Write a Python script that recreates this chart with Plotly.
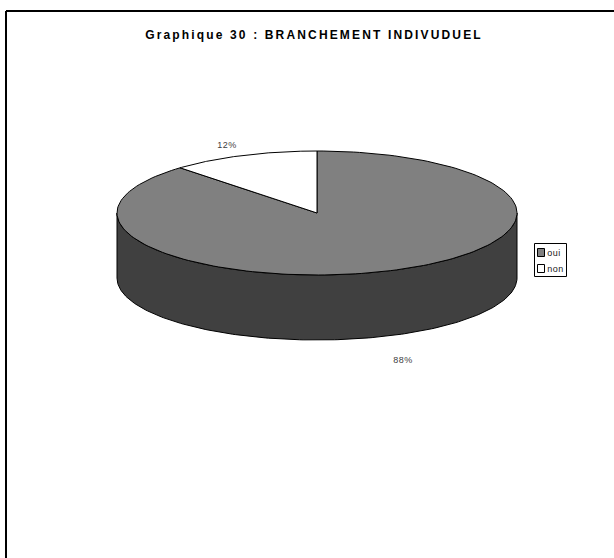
import math
import plotly.graph_objects as go

TITLE = "Graphique 30 : BRANCHEMENT INDIVUDUEL"
categories = ["oui", "non"]
shares = [88, 12]
colors = ["#808080", "#FFFFFF"]
WALL = "#404040"
FONT = "Liberation Sans, Arial, sans-serif"
W, H = 614, 558

# Pie geometry (pixel-mapped axes)
CX, CY, RX, RY, DEPTH = 317, 213, 200, 62, 65


def pt(deg, dy=0):
    a = math.radians(deg)
    return CX + RX * math.sin(a), CY - RY * math.cos(a) + dy


def arc(a0, a1, dy=0, n=180):
    pts = [pt(a0 + (a1 - a0) * i / n, dy) for i in range(n + 1)]
    return [p[0] for p in pts], [p[1] for p in pts]


fig = go.Figure()

# Side wall (front half of the disc)
ux, uy = arc(90, 270)
lx, ly = arc(270, 90, DEPTH)
fig.add_trace(go.Scatter(x=ux + lx + [ux[0]], y=uy + ly + [uy[0]], mode="lines",
                         fill="toself", fillcolor=WALL,
                         line=dict(color="black", width=1), hoverinfo="skip",
                         showlegend=False))

# Top slices, clockwise from 12 o'clock
start = 0.0
total = sum(shares)
for name, share, col in zip(categories, shares, colors):
    sweep = 360 * share / total
    ax, ay = arc(start, start + sweep)
    fig.add_trace(go.Scatter(x=[CX] + ax + [CX], y=[CY] + ay + [CY], mode="lines",
                             fill="toself", fillcolor=col, name=name,
                             line=dict(color="black", width=1), hoverinfo="name",
                             showlegend=False))
    start += sweep

label_pos = [(403, 360), (227, 145)]
annotations = []
for share, (lx_, ly_) in zip(shares, label_pos):
    annotations.append(dict(x=lx_, y=ly_, xref="x", yref="y", text=f"{share}%",
                            showarrow=False, xanchor="center", yanchor="middle",
                            font=dict(family=FONT, size=9, color="#404040")))

# Legend
LEG = (534.5, 243.5, 566.5, 276.5)
shapes = [
    dict(type="line", xref="x", yref="y", x0=6, y0=11, x1=W, y1=11,
         line=dict(color="black", width=2)),
    dict(type="line", xref="x", yref="y", x0=6, y0=11, x1=6, y1=H,
         line=dict(color="black", width=2)),
    dict(type="rect", xref="x", yref="y", x0=LEG[0], y0=LEG[1], x1=LEG[2], y1=LEG[3],
         line=dict(color="black", width=1), fillcolor="white"),
]
for i, (name, col) in enumerate(zip(categories, colors)):
    yc = 252.5 + 16 * i
    shapes.append(dict(type="rect", xref="x", yref="y", x0=537.5, y0=yc - 4,
                       x1=544.5, y1=yc + 4, fillcolor=col,
                       line=dict(color="black", width=1)))
    annotations.append(dict(x=546, y=yc, xref="x", yref="y", text=name, showarrow=False,
                            xanchor="left", yanchor="middle",
                            font=dict(family=FONT, size=9, color="#202020")))

fig.update_layout(
    width=W, height=H, margin=dict(l=0, r=0, t=0, b=0),
    paper_bgcolor="white", plot_bgcolor="white", showlegend=False,
    title=dict(text=f"<b>{TITLE}</b>", x=314 / W, xanchor="center",
               y=1 - 35 / H, yanchor="middle",
               font=dict(family=FONT, size=12, color="black")),
    xaxis=dict(range=[0, W], visible=False, fixedrange=True),
    yaxis=dict(range=[H, 0], visible=False, fixedrange=True),
    annotations=annotations, shapes=shapes,
)

post = """
document.body.style.margin='0';
document.body.style.overflow='hidden';
document.querySelectorAll('.gtitle').forEach(function(e){e.style.letterSpacing='2.15px';});
document.querySelectorAll('.annotation-text').forEach(function(e){e.style.letterSpacing='0.5px';});
"""
fig.write_html("out.html", post_script=post, config=dict(displayModeBar=False))
